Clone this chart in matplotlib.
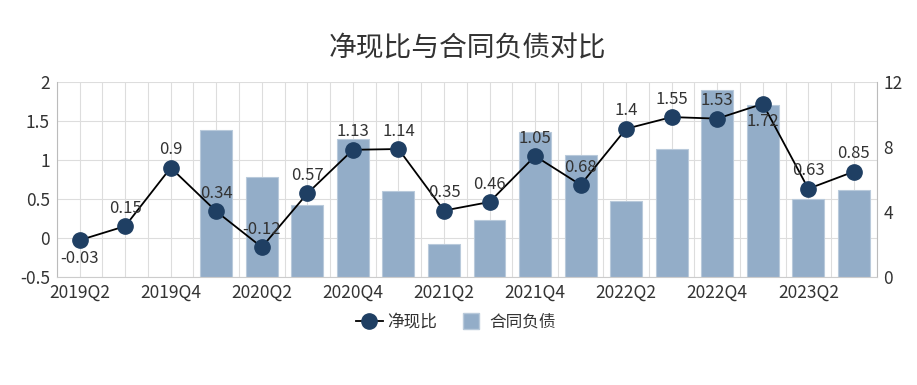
import numpy as np
import matplotlib.pyplot as plt
from matplotlib.lines import Line2D

plt.rcParams['font.family'] = ['Noto Sans CJK SC', 'DejaVu Sans']

quarters = ['2019Q2', '2019Q3', '2019Q4', '2020Q1', '2020Q2', '2020Q3', '2020Q4',
            '2021Q1', '2021Q2', '2021Q3', '2021Q4', '2022Q1', '2022Q2', '2022Q3',
            '2022Q4', '2023Q1', '2023Q2', '2023Q3']
# 净现比
ratio = [-0.03, 0.15, 0.9, 0.34, -0.12, 0.57, 1.13, 1.14, 0.35, 0.46,
         1.05, 0.68, 1.4, 1.55, 1.53, 1.72, 0.63, 0.85]
# 合同负债 (no data before 2020Q1)
liab = [np.nan, np.nan, np.nan, 9.05, 6.17, 4.43, 8.5, 5.31, 2.02, 3.48,
        8.95, 7.53, 4.67, 7.88, 11.52, 10.6, 4.8, 5.33]
below = ['-0.03', '1.72']

txt = '#333333'
fig = plt.figure(figsize=(9.17, 3.85), dpi=100)
ax = fig.add_axes([0.062, 0.281, 0.894, 0.506])
ax2 = ax.twinx()

X = np.arange(len(quarters))
bars = ax2.bar(X, liab, width=0.7, color='#93adc8', edgecolor='#b9cadb', linewidth=0.8, zorder=2)
ax2.set_ylim(0, 12)
ax2.set_yticks([0, 4, 8, 12])

ax.set_zorder(ax2.get_zorder() + 1)
ax.patch.set_visible(False)
line, = ax.plot(X, ratio, color='black', linewidth=1.3, marker='o', markersize=11,
                markerfacecolor='#1f3f63', markeredgecolor='#1f3f63', zorder=3)
for x, y in zip(X, ratio):
    s = '%g' % y
    if s in below:
        ax.text(x, y - 0.12, s, ha='center', va='top', fontsize=12, color=txt)
    else:
        ax.text(x, y + 0.12, s, ha='center', va='bottom', fontsize=12, color=txt)

ax.set_xlim(-0.5, len(quarters) - 0.5)
ax.set_ylim(-0.5, 2)
ax.set_yticks([-0.5, 0, 0.5, 1, 1.5, 2])
ax.set_yticklabels(['-0.5', '0', '0.5', '1', '1.5', '2'])
ax.set_xticks(X[::2])
ax.set_xticklabels(quarters[::2])

# grid lines (on the back axis so bars cover them)
for v in np.arange(-0.5, len(quarters), 0.5):
    ax2.axvline(v, color='#dddddd', linewidth=0.8, zorder=0)
for v in np.arange(-0.5, 2.01, 0.5):
    ax2.axhline((v + 0.5) * 12 / 2.5, color='#dddddd', linewidth=0.8, zorder=0)

for a in (ax, ax2):
    a.tick_params(length=0, labelsize=12.5, labelcolor=txt, pad=5)
    for sp in a.spines.values():
        sp.set_visible(False)
ax.spines['left'].set_visible(True)
ax.spines['left'].set_color('#bbbbbb')
ax2.spines['right'].set_visible(True)
ax2.spines['right'].set_color('#bbbbbb')
ax.spines['bottom'].set_visible(True)
ax.spines['bottom'].set_color('#cccccc')

bar_handle = Line2D([], [], linestyle='none', marker='s', markersize=12,
                    markerfacecolor='#93adc8', markeredgecolor='#b9cadb')
fig.text(0.51, 0.875, '净现比与合同负债对比', ha='center', va='center', fontsize=20, color=txt)
fig.legend([line, bar_handle], ['净现比', '合同负债'], loc='center', bbox_to_anchor=(0.497, 0.163),
           ncol=2, frameon=False, fontsize=12, handlelength=1.6, handletextpad=0.3,
           columnspacing=1.2, labelcolor=txt)

fig.savefig('out.png', dpi=100)
